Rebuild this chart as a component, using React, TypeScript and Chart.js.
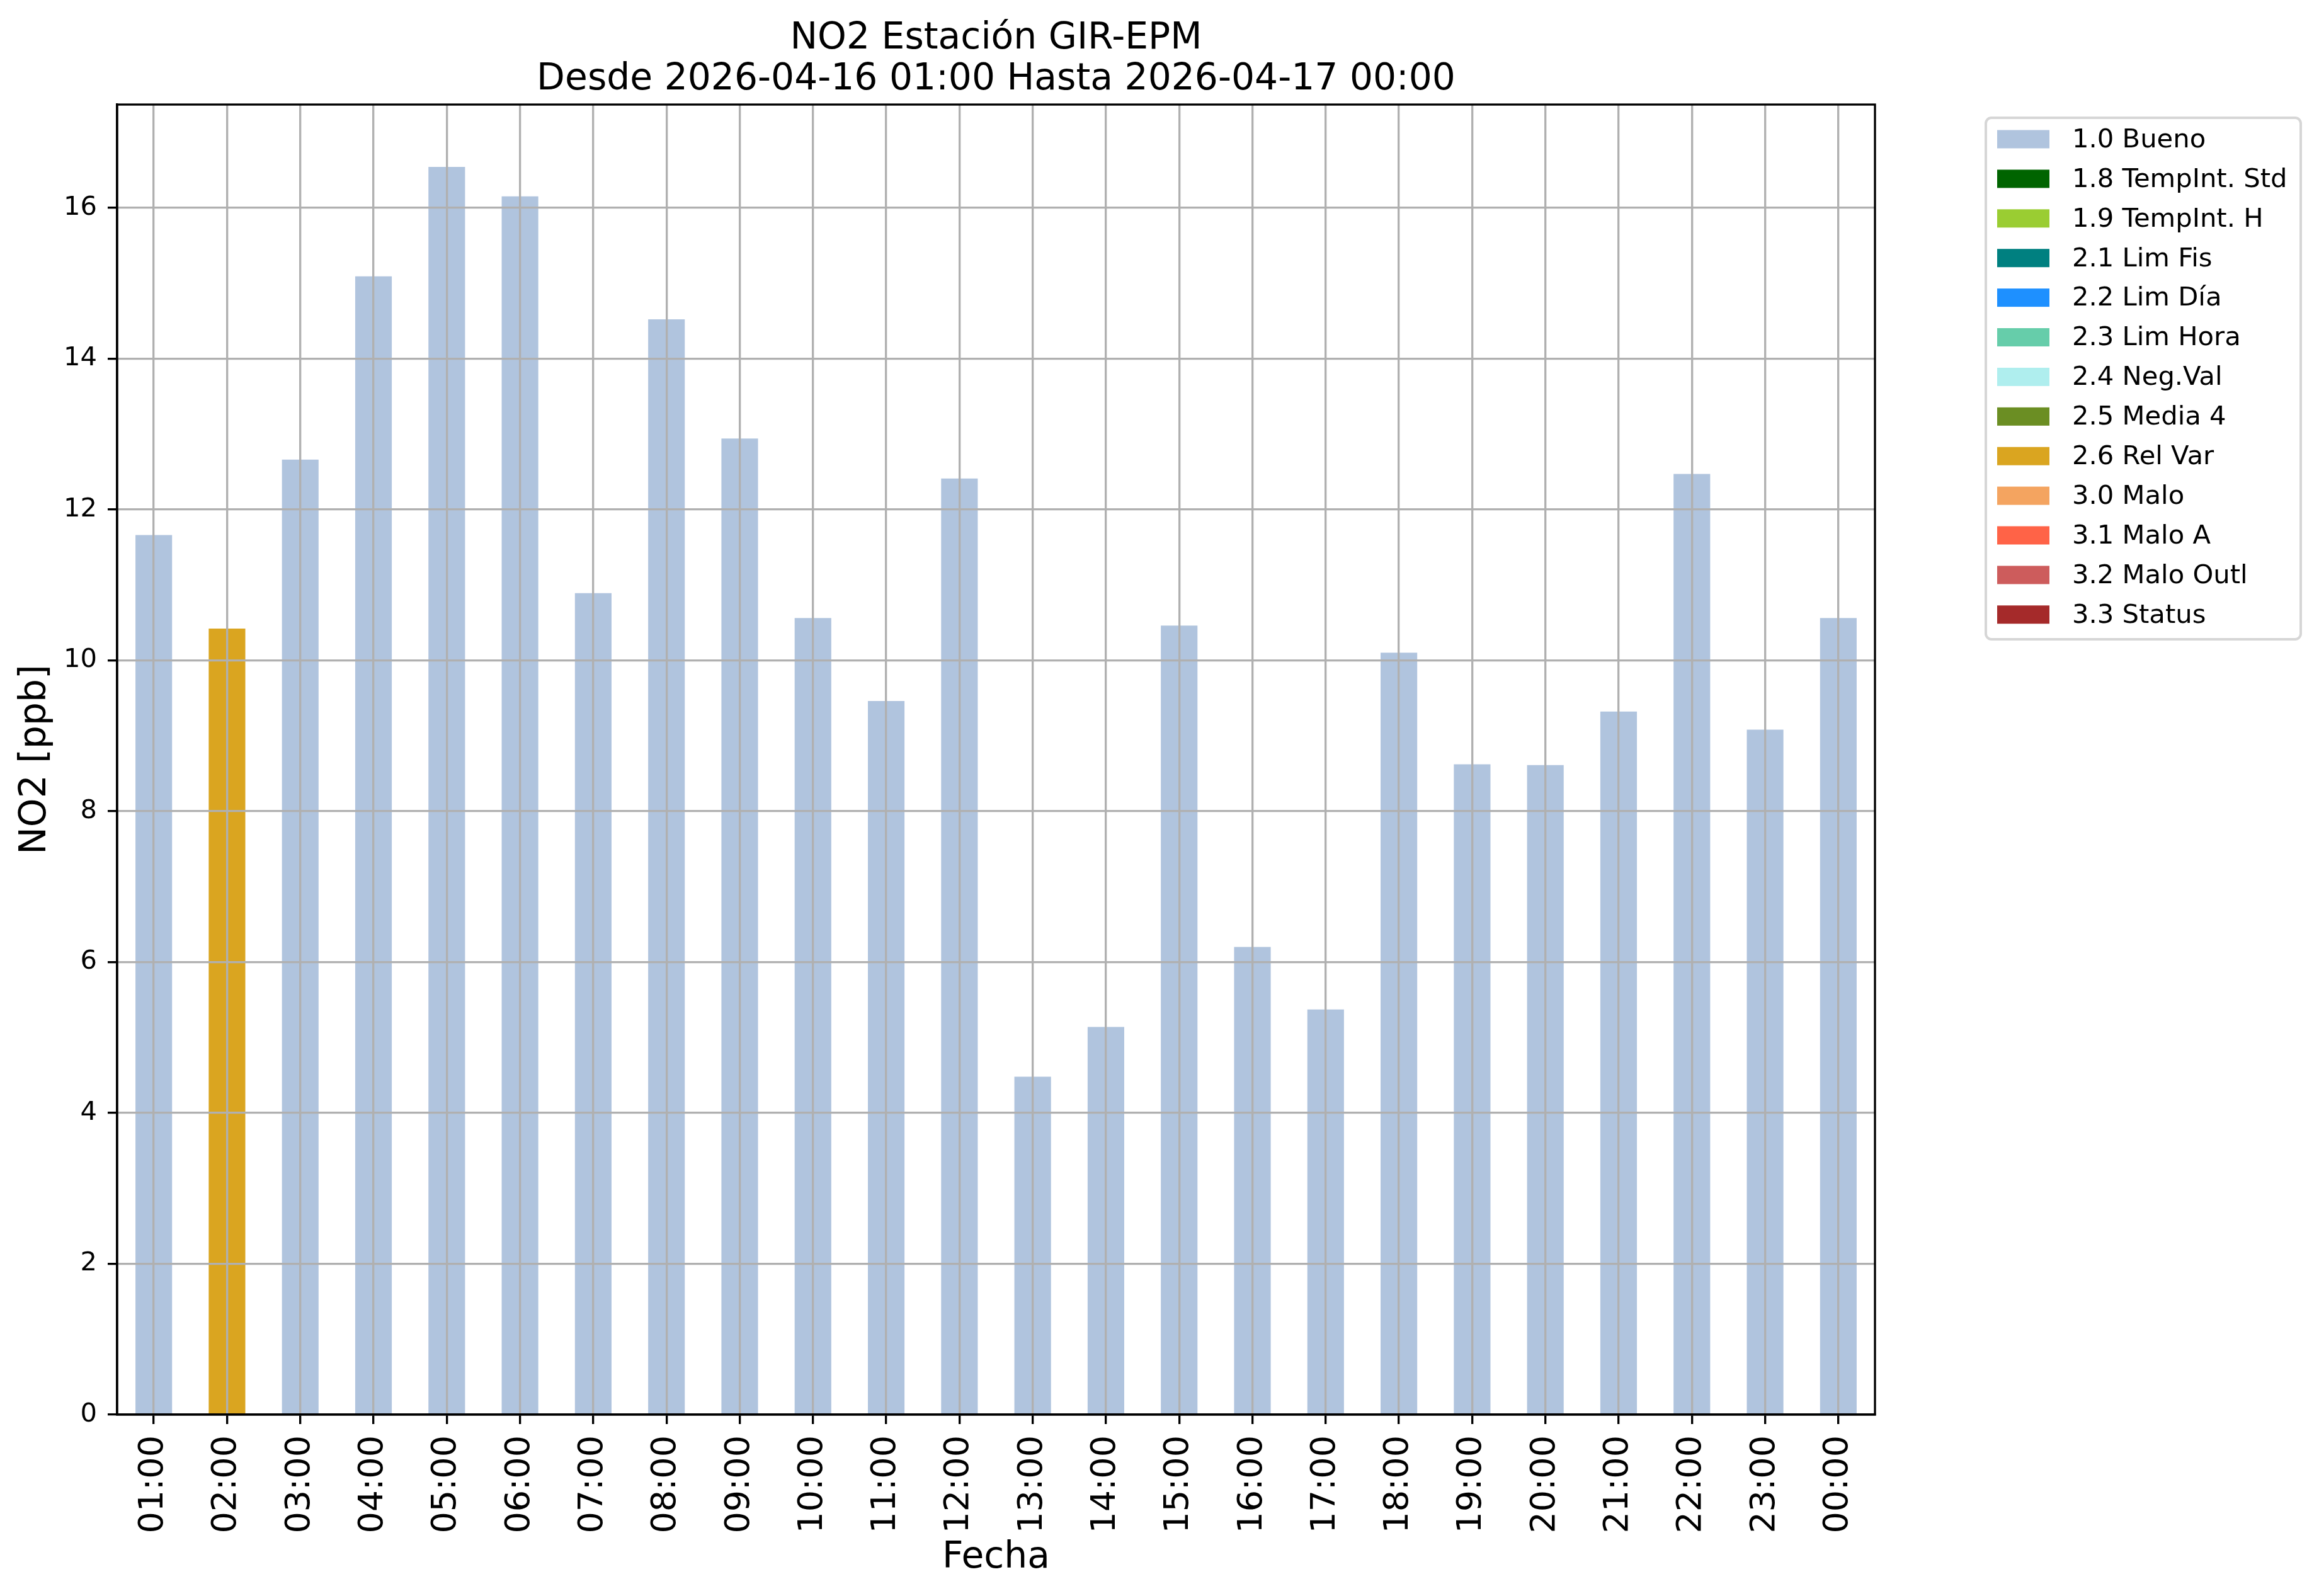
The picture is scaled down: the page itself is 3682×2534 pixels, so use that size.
import React, { useEffect, useRef } from 'react';
import { Chart, registerables } from 'chart.js';

Chart.register(...registerables);

// ---- data ----
const hours = [
  '01:00', '02:00', '03:00', '04:00', '05:00', '06:00', '07:00', '08:00',
  '09:00', '10:00', '11:00', '12:00', '13:00', '14:00', '15:00', '16:00',
  '17:00', '18:00', '19:00', '20:00', '21:00', '22:00', '23:00', '00:00',
];
const no2Values = [
  11.66, 10.42, 12.66, 15.09, 16.54, 16.15, 10.89, 14.52,
  12.94, 10.56, 9.46, 12.41, 4.48, 5.14, 10.46, 6.2,
  5.37, 10.1, 8.62, 8.61, 9.32, 12.47, 9.08, 10.56,
];
const barFlags = [
  '1.0 Bueno', '2.6 Rel Var', '1.0 Bueno', '1.0 Bueno', '1.0 Bueno', '1.0 Bueno', '1.0 Bueno', '1.0 Bueno',
  '1.0 Bueno', '1.0 Bueno', '1.0 Bueno', '1.0 Bueno', '1.0 Bueno', '1.0 Bueno', '1.0 Bueno', '1.0 Bueno',
  '1.0 Bueno', '1.0 Bueno', '1.0 Bueno', '1.0 Bueno', '1.0 Bueno', '1.0 Bueno', '1.0 Bueno', '1.0 Bueno',
];
const legendLabels = [
  '1.0 Bueno', '1.8 TempInt. Std', '1.9 TempInt. H', '2.1 Lim Fis', '2.2 Lim Día',
  '2.3 Lim Hora', '2.4 Neg.Val', '2.5 Media 4', '2.6 Rel Var', '3.0 Malo',
  '3.1 Malo A', '3.2 Malo Outl', '3.3 Status',
];
const legendColors = [
  '#B0C4DE', '#006400', '#9ACD32', '#008080', '#1E90FF',
  '#66CDAA', '#AFEEEE', '#6B8E23', '#DAA520', '#F4A460',
  '#FF6347', '#CD5C5C', '#A52A2A',
];
const titleLines = ['NO2 Estación GIR-EPM', 'Desde 2026-04-16 01:00 Hasta 2026-04-17 00:00'];
const yAxisTitle = 'NO2 [ppb]';
const xAxisTitle = 'Fecha';
const yTickStep = 2;

const FONT = '"DejaVu Sans", "Liberation Sans", sans-serif';

export default function App() {
  const ref = useRef<HTMLCanvasElement>(null);

  useEffect(() => {
    const canvas = ref.current;
    if (!canvas) return;
    const colorOf = (f: string) => legendColors[legendLabels.indexOf(f)];
    const yMax = Math.max(...no2Values) * 1.05;
    const LW = 3.33;

    const decor = {
      id: 'decor',
      afterDraw(chart: any) {
        const ctx = chart.ctx as CanvasRenderingContext2D;
        const ca = chart.chartArea;
        ctx.save();
        // frame
        ctx.strokeStyle = '#000';
        ctx.lineWidth = LW;
        ctx.strokeRect(ca.left, ca.top, ca.right - ca.left, ca.bottom - ca.top);

        // title
        ctx.fillStyle = '#000';
        ctx.font = `58.3px ${FONT}`;
        ctx.textAlign = 'center';
        ctx.textBaseline = 'alphabetic';
        const cx = (ca.left + ca.right) / 2;
        ctx.fillText(titleLines[0], cx, 77);
        ctx.fillText(titleLines[1], cx, 142);

        // legend
        const bx = 3153, by = 187, bw = 500, bh = 828, r = 9;
        ctx.beginPath();
        ctx.moveTo(bx + r, by);
        ctx.lineTo(bx + bw - r, by);
        ctx.arcTo(bx + bw, by, bx + bw, by + r, r);
        ctx.lineTo(bx + bw, by + bh - r);
        ctx.arcTo(bx + bw, by + bh, bx + bw - r, by + bh, r);
        ctx.lineTo(bx + r, by + bh);
        ctx.arcTo(bx, by + bh, bx, by + bh - r, r);
        ctx.lineTo(bx, by + r);
        ctx.arcTo(bx, by, bx + r, by, r);
        ctx.closePath();
        ctx.fillStyle = 'rgba(255,255,255,0.8)';
        ctx.fill();
        ctx.strokeStyle = '#d6d6d6';
        ctx.lineWidth = 4;
        ctx.stroke();

        ctx.font = `41.7px ${FONT}`;
        ctx.textAlign = 'left';
        ctx.textBaseline = 'middle';
        legendLabels.forEach((lab, i) => {
          const cy = 221 + i * 62.9;
          ctx.fillStyle = legendColors[i];
          ctx.fillRect(3171, cy - 14.5, 83, 29);
          ctx.fillStyle = '#000';
          ctx.fillText(lab, 3290, cy + 2);
        });
        ctx.restore();
      },
    };

    const gridOpts = {
      color: '#b0b0b0',
      lineWidth: LW,
      drawTicks: true,
      tickLength: 15,
      tickColor: '#000',
      tickWidth: LW,
      z: 1,
    };

    const chart = new Chart(canvas, {
      type: 'bar',
      data: {
        labels: hours,
        datasets: [
          {
            data: no2Values,
            backgroundColor: barFlags.map(colorOf),
            borderWidth: 0,
            barPercentage: 0.5,
            categoryPercentage: 1,
          },
        ],
      },
      options: {
        animation: false,
        responsive: false,
        devicePixelRatio: 1,
        layout: { padding: { left: 0, top: 166, right: 705, bottom: 0 } },
        plugins: {
          legend: { display: false },
          title: { display: false },
          tooltip: { enabled: false },
        },
        scales: {
          x: {
            type: 'category',
            offset: true,
            grid: { ...gridOpts, offset: false },
            border: { color: '#000', width: LW, z: 2 },
            ticks: {
              autoSkip: false,
              maxRotation: 90,
              minRotation: 90,
              padding: 18,
              color: '#000',
              font: { family: FONT, size: 54 },
            },
            title: {
              display: true,
              text: xAxisTitle,
              color: '#000',
              font: { family: FONT, size: 58.3 },
              padding: { top: 0, bottom: 25 },
            },
            afterFit: (s: any) => {
              s.height = 288;
            },
          },
          y: {
            type: 'linear',
            min: 0,
            max: yMax,
            grid: gridOpts,
            border: { color: '#000', width: LW, z: 2 },
            ticks: {
              stepSize: yTickStep,
              padding: 17,
              color: '#000',
              font: { family: FONT, size: 41.7 },
            },
            afterBuildTicks: (s: any) => {
              s.ticks = s.ticks.filter(
                (t: any) => Math.abs(t.value / yTickStep - Math.round(t.value / yTickStep)) < 1e-9
              );
            },
            title: {
              display: true,
              text: yAxisTitle,
              color: '#000',
              font: { family: FONT, size: 58.3 },
              padding: { top: 22, bottom: 0 },
            },
            afterFit: (s: any) => {
              s.width = 186;
            },
          },
        },
      } as any,
      plugins: [decor],
    });

    return () => chart.destroy();
  }, []);

  return (
    <div style={{ position: 'absolute', left: 0, top: 0, width: 3682, height: 2534, background: '#fff' }}>
      <canvas ref={ref} width={3682} height={2534} style={{ width: 3682, height: 2534, display: 'block' }} />
    </div>
  );
}
